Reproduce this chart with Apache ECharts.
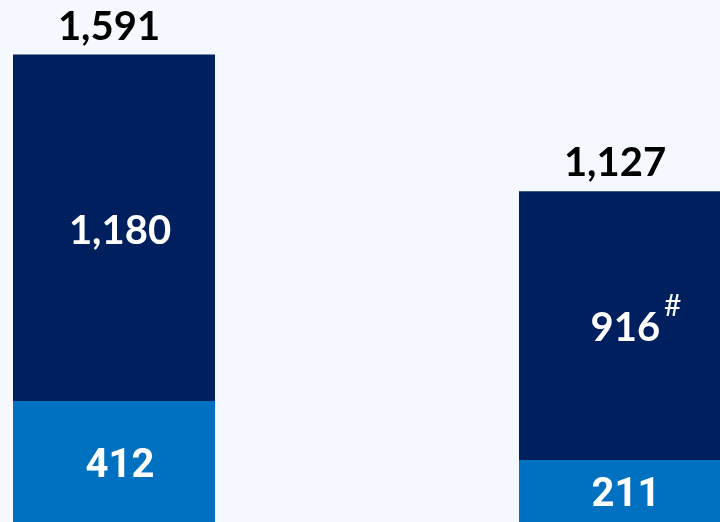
<!DOCTYPE html>
<html>
<head>
<meta charset="utf-8">
<script src="https://cdn.jsdelivr.net/npm/echarts@6/dist/echarts.min.js"></script>
<style>
	html, body { margin: 0; padding: 0; background: #f5f8fe; overflow: hidden; width: 720px; height: 522px; }
	/* the chart is wider than the window: it is cropped on both sides */
	#main { position: absolute; left: -139px; top: 0; width: 1012px; height: 522px; }
</style>
</head>
<body>
<div id="main"></div>
<script>
	var categories = ['A', 'B'];
	var lowerValues = [412, 211];
	var upperValues = [1180, 916];
	var totals = [1591, 1127];
	var upperNotes = ['', '#'];

	function fmt(n) {
		return n.toLocaleString('en-US');
	}

	var chart = echarts.init(document.getElementById('main'));
	var option = {
		backgroundColor: '#f5f8fe',
		animation: false,
		grid: { left: 0, right: 0, top: 0, bottom: 0 },
		xAxis: {
			type: 'category',
			data: categories,
			show: false
		},
		yAxis: {
			type: 'value',
			min: 0,
			max: 1778,
			show: false
		},
		series: [
			{
				name: 'lower',
				type: 'bar',
				stack: 'total',
				barWidth: 202,
				data: lowerValues,
				itemStyle: { color: '#0070c0' },
				label: {
					show: true,
					position: 'inside',
					offset: [6, 5],
					color: '#fff',
					fontFamily: 'Roboto',
					fontWeight: 'bold',
					fontSize: 40,
					formatter: function (p) { return fmt(p.value); }
				}
			},
			{
				name: 'upper',
				type: 'bar',
				stack: 'total',
				barWidth: 202,
				data: upperValues.map(function (v, i) {
					// the footnote mark makes the label wider, so push it right
					return upperNotes[i] ? { value: v, label: { offset: [16, 3] } } : v;
				}),
				itemStyle: { color: '#001f5f' },
				label: {
					show: true,
					position: 'inside',
					offset: [6, 3],
					color: '#fff',
					fontFamily: 'Lato',
					fontWeight: 'bold',
					fontSize: 40,
					formatter: function (p) {
						var note = upperNotes[p.dataIndex];
						return note ? fmt(p.value) + '{sup|' + note + '}' : fmt(p.value);
					},
					rich: {
						sup: {
							color: '#fff',
							fontFamily: 'Lato',
							fontWeight: 'normal',
							fontSize: 30,
							verticalAlign: 'top',
							padding: [0, 0, 44, 4]
						}
					}
				}
			},
			{
				name: 'totals',
				type: 'bar',
				stack: 'total',
				barWidth: 202,
				data: [0, 0],
				label: {
					show: true,
					position: 'top',
					distance: 8,
					offset: [-5, 0],
					color: '#000',
					fontFamily: 'Lato',
					fontWeight: 'bold',
					fontSize: 40,
					formatter: function (p) { return fmt(totals[p.dataIndex]); }
				}
			}
		]
	};
	chart.setOption(option);
</script>
</body>
</html>
